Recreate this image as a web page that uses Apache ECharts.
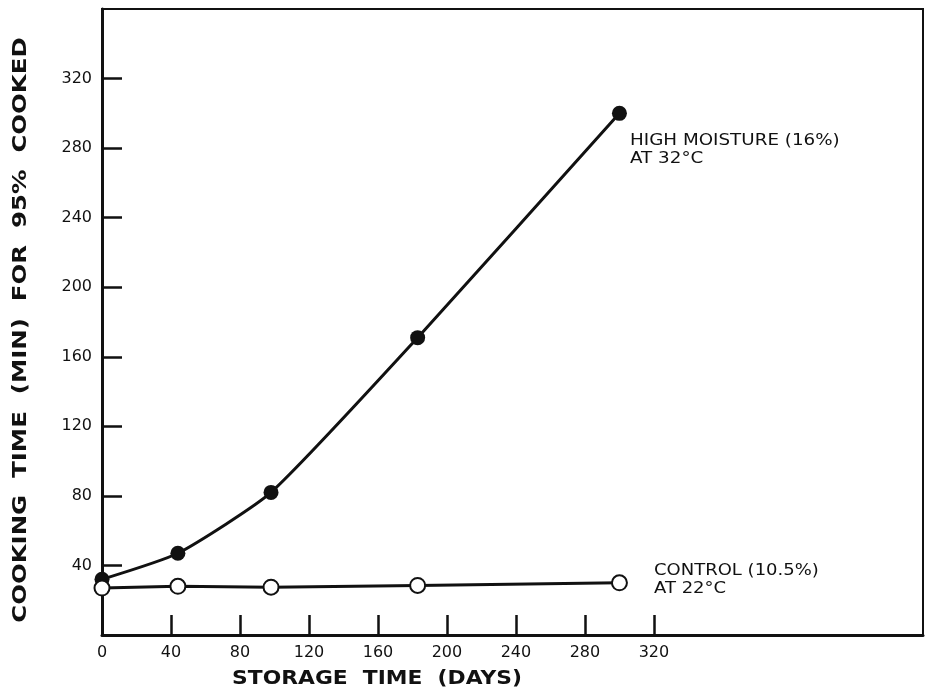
<!DOCTYPE html>
<html><head><meta charset="utf-8">
<script src="https://cdn.jsdelivr.net/npm/echarts@6/dist/echarts.min.js"></script>
<style>html,body{margin:0;padding:0;background:#fff}#c{width:928px;height:692px}</style>
</head><body><div id="c"></div>
<script>
const days = [0, 44, 98, 183, 300];
const highMoisture = [32, 47, 82, 171, 300];
const control = [27, 28, 27.5, 28.5, 30];
const xTicks = [0, 40, 80, 120, 160, 200, 240, 280, 320];
const yTicks = [40, 80, 120, 160, 200, 240, 280, 320];
const xTitle = 'STORAGE  TIME  (DAYS)';
const yTitle = 'COOKING  TIME  (MIN)  FOR  95%  COOKED';
const highLabel = 'HIGH MOISTURE (16%)\nAT 32°C';
const controlLabel = 'CONTROL (10.5%)\nAT 22°C';

const font = 'DejaVu Sans';
const chart = echarts.init(document.getElementById('c'), null, {renderer: 'canvas'});
chart.setOption({
  backgroundColor: '#fff',
  animation: false,
  grid: {left: 102, right: 5, top: 9, bottom: 57, show: true, borderColor: '#111', borderWidth: 2, backgroundColor: 'transparent'},
  xAxis: {
    type: 'value', min: 0, max: 476,
    axisLine: {show: true, lineStyle: {color: '#111', width: 3}},
    axisTick: {show: true, inside: true, length: 20, customValues: xTicks, lineStyle: {color: '#111', width: 2.5}},
    axisLabel: {customValues: xTicks, margin: 10, color: '#111', fontFamily: font, fontSize: 16},
    splitLine: {show: false}
  },
  yAxis: {
    type: 'value', min: 0, max: 360,
    axisLine: {show: true, lineStyle: {color: '#111', width: 3}},
    axisTick: {show: true, inside: true, length: 20, customValues: yTicks, lineStyle: {color: '#111', width: 2.5}},
    axisLabel: {customValues: yTicks, margin: 10, color: '#111', fontFamily: font, fontSize: 16},
    splitLine: {show: false}
  },
  graphic: [
    {type: 'text', x: 377, y: 679, scaleX: 1.09, style: {text: xTitle, font: 'bold 20px "DejaVu Sans"', fill: '#111', align: 'center', verticalAlign: 'middle'}},
    {type: 'text', x: 21, y: 330, rotation: Math.PI / 2, scaleX: 1.22, style: {text: yTitle, font: 'bold 20px "DejaVu Sans"', fill: '#111', align: 'center', verticalAlign: 'middle'}},
    {type: 'text', x: 630, y: 132, scaleX: 1.22, style: {text: highLabel, font: '15px "DejaVu Sans"', fill: '#111', lineHeight: 18}},
    {type: 'text', x: 654, y: 562, scaleX: 1.2, style: {text: controlLabel, font: '15px "DejaVu Sans"', fill: '#111', lineHeight: 18}}
  ],
  series: [
    {
      name: 'control', type: 'line', data: days.map((d, i) => [d, control[i]]),
      symbol: 'circle', symbolSize: 15, z: 3,
      lineStyle: {color: '#111', width: 3},
      itemStyle: {color: '#fff', borderColor: '#111', borderWidth: 2}
    },
    {
      name: 'high', type: 'line', data: days.map((d, i) => [d, highMoisture[i]]),
      symbol: 'circle', symbolSize: 15, smooth: 0.18, z: 2,
      lineStyle: {color: '#111', width: 3},
      itemStyle: {color: '#111', borderColor: '#111', borderWidth: 0}
    }
  ]
});
</script></body></html>
